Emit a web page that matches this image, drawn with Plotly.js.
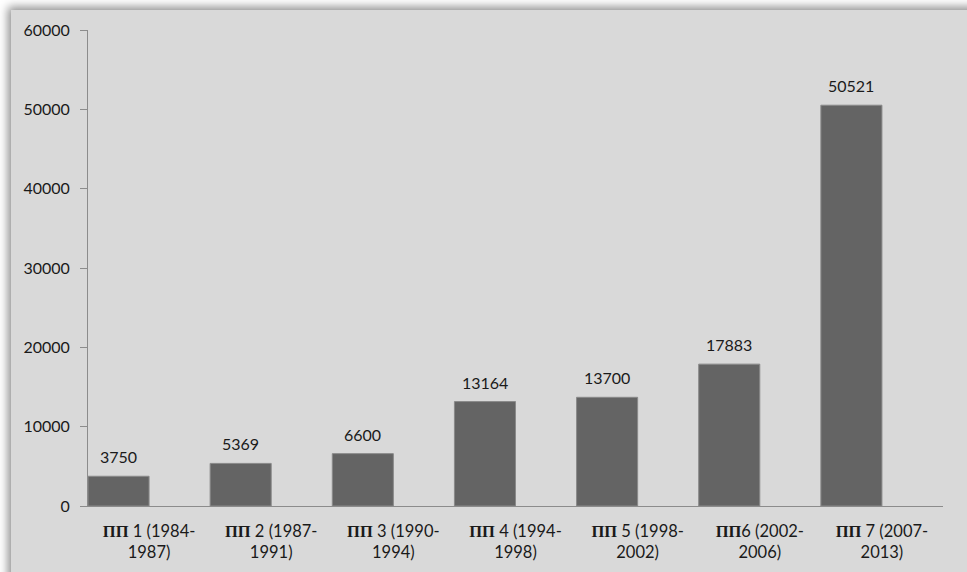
<!DOCTYPE html>
<html>
<head>
<meta charset="utf-8">
<script src="https://cdn.plot.ly/plotly-3.0.1.min.js"></script>
<style>
  html, body { margin: 0; padding: 0; background: #ffffff; overflow: hidden; }
  #bg { position: absolute; left: 11px; top: 10px; width: 1000px; height: 620px;
        background: #d9d9d9; box-shadow: -3px -3px 9px rgba(0,0,0,0.45); }
  #chart { position: absolute; left: 0; top: 0; width: 967px; height: 572px; }
</style>
</head>
<body>
<div id="bg"></div>
<div id="chart"></div>
<script>
const programmes = ["ΠΠ 1", "ΠΠ 2", "ΠΠ 3", "ΠΠ 4", "ΠΠ 5", "ΠΠ6", "ΠΠ 7"];
const periodStart = ["1984", "1987", "1990", "1994", "1998", "2002", "2007"];
const periodEnd = ["1987", "1991", "1994", "1998", "2002", "2006", "2013"];
const budgets = [3750, 5369, 6600, 13164, 13700, 17883, 50521];
const yTicks = [0, 10000, 20000, 30000, 40000, 50000, 60000];

const idx = programmes.map((_, i) => i);
const tickText = programmes.map((p, i) => {
  const parts = p.match(/^(ΠΠ)\s*(.*)$/);
  const sep = p.indexOf(" ") >= 0 ? " " : "";
  return "<span style='font-family:Liberation Serif, DejaVu Serif, serif;font-weight:bold'>" + parts[1] + "</span>" +
    sep + parts[2] + " (" + periodStart[i] + "-<br>" + periodEnd[i] + ")";
});

const trace = {
  type: "bar",
  x: idx,
  y: budgets,
  width: 0.5,
  offset: -0.5,
  marker: { color: "#646464", line: { color: "#8a8a8a", width: 1 } },
  hoverinfo: "skip"
};

const annotations = budgets.map((v, i) => ({
  x: i - 0.25, y: v, xref: "x", yref: "y",
  text: String(v), showarrow: false,
  yanchor: "bottom", yshift: 8,
  font: { family: "Lato, sans-serif", size: 16, color: "#1a1a1a" }
}));

const layout = {
  width: 967, height: 572,
  margin: { l: 88, r: 24, t: 30, b: 66 },
  paper_bgcolor: "rgba(0,0,0,0)",
  plot_bgcolor: "rgba(0,0,0,0)",
  showlegend: false,
  font: { family: "Lato, sans-serif", size: 16, color: "#1a1a1a" },
  xaxis: {
    range: [-0.5, 6.5],
    tickmode: "array", tickvals: idx, ticktext: tickText,
    showgrid: false, zeroline: false,
    showline: true, linecolor: "#8c8c8c", linewidth: 1,
    ticks: "", ticklabelstandoff: 10,
    tickfont: { family: "Lato, sans-serif", size: 16.5, color: "#1a1a1a" },
    fixedrange: true
  },
  yaxis: {
    range: [0, 60000],
    tickmode: "array", tickvals: yTicks, ticktext: yTicks.map(String),
    showgrid: false, zeroline: false,
    showline: true, linecolor: "#8c8c8c", linewidth: 1,
    ticks: "outside", ticklen: 7, tickcolor: "#8c8c8c", tickwidth: 1,
    ticklabelstandoff: 7,
    tickfont: { family: "Lato, sans-serif", size: 16, color: "#1a1a1a" },
    fixedrange: true
  },
  annotations: annotations
};

Plotly.newPlot("chart", [trace], layout, { displayModeBar: false, staticPlot: true });
</script>
</body>
</html>
